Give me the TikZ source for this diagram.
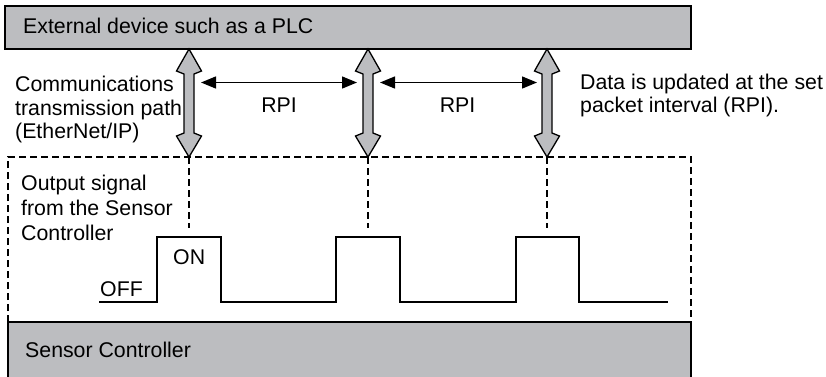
\documentclass[tikz,border=0pt]{standalone}
\usepackage{fontspec}
\setmainfont{Liberation Sans}
\usetikzlibrary{arrows.meta}
\definecolor{boxgray}{RGB}{188,189,192}
\begin{document}
\begin{tikzpicture}[x=1pt,y=-1pt,
  lbl/.style={anchor=base west,inner sep=0pt,font=\fontsize{21.3}{25}\selectfont},
  clbl/.style={anchor=base,inner sep=0pt,font=\fontsize{21.3}{25}\selectfont},
  devbox/.style={draw=black,fill=boxgray,line width=1.4pt},
  dashline/.style={draw=black,line width=1.3pt,dash pattern=on 7pt off 4pt},
  dblarrow/.style={draw=black,fill=boxgray,line width=1.3pt,line join=miter},
  rpiarrow/.style={draw=black,line width=1.4pt,{Triangle[length=15pt,width=12pt]}-{Triangle[length=15pt,width=12pt]}},
  signal/.style={draw=black,line width=1.4pt}]
\useasboundingbox (0,0) rectangle (826,376);
% top box
\draw[devbox] (5,6) rectangle (691,49);
\node[lbl] (ext) at (23,33) {External device such as a PLC};
% bottom box
\draw[devbox] (8,322) rectangle (691,380);
\node[lbl] (sc) at (25,357) {Sensor Controller};
% dashed box
\draw[dashline] (8,322) -- (8,157) -- (691,157) -- (691,322);
% vertical dashed lines and double arrows
\foreach \cx/\n in {189/a,368/b,547/c}{
  \coordinate (top\n) at (\cx,157);
  \coordinate (bot\n) at (\cx,228);
  \draw[dashline] (top\n) -- (bot\n);
  \draw[dblarrow] (\cx,49) -- (\cx+12.5,71) -- (\cx+5,74) -- (\cx+5,133) -- (\cx+12.5,136)
     -- (\cx,157) -- (\cx-12.5,136) -- (\cx-5,133) -- (\cx-5,74) -- (\cx-12.5,71) -- cycle;
}
% RPI arrows
\coordinate (r1a) at (201,82.5);
\coordinate (r1b) at (357,82.5);
\coordinate (r2a) at (380,82.5);
\coordinate (r2b) at (537,82.5);
\draw[rpiarrow] (r1a) -- (r1b);
\draw[rpiarrow] (r2a) -- (r2b);
\node[clbl] (rpi1) at (279,112) {RPI};
\node[clbl] (rpi2) at (457.5,112) {RPI};
% labels
\node[lbl] (c1) at (15,91) {Communications};
\node[lbl] (c2) at (15,115) {transmission path};
\node[lbl] (c3) at (15,138) {(EtherNet/IP)};
\node[lbl] (d1) at (580,89) {Data is updated at the set};
\node[lbl] (d2) at (580,112) {packet interval (RPI).};
\node[lbl] (o1) at (21,190) {Output signal};
\node[lbl] (o2) at (21,215) {from the Sensor};
\node[lbl] (o3) at (21,240) {Controller};
\node[lbl] (on) at (173,264) {ON};
\node[lbl] (off) at (100,296) {OFF};
% signal
\draw[signal] (99,302) -- (157,302) -- (157,237) -- (221,237) -- (221,302) -- (336,302) -- (336,237)
  -- (400,237) -- (400,302) -- (516,302) -- (516,237) -- (579,237) -- (579,302) -- (668,302);
\end{tikzpicture}
\end{document}
